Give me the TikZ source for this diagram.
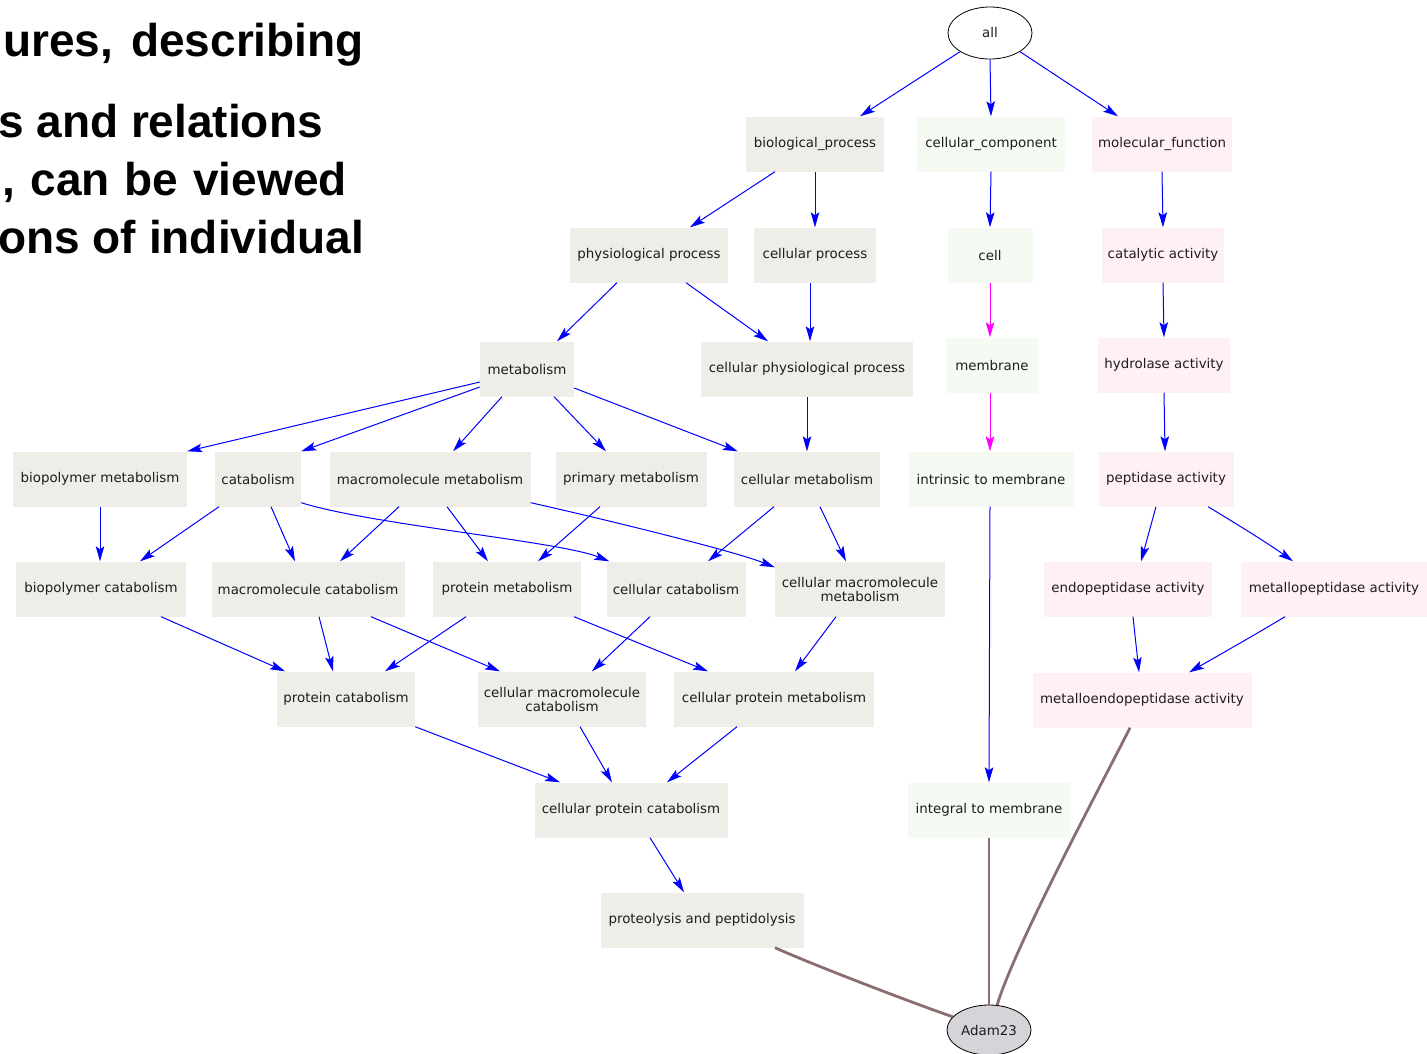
\documentclass[tikz,border=0pt]{standalone}
\usepackage{fontspec}
\setmainfont{DejaVu Sans}
\newfontfamily\titlefont{Liberation Sans}
\usetikzlibrary{arrows.meta,shapes.geometric}
\definecolor{bpfill}{HTML}{EEEDE7}
\definecolor{ccfill}{HTML}{F5FBF3}
\definecolor{mffill}{HTML}{FFF0F4}
\definecolor{genefill}{HTML}{D6D4D9}
\definecolor{termtext}{HTML}{1E1E1E}
\definecolor{annotline}{HTML}{8C6E6E}
\definecolor{isacol}{RGB}{0,0,255}
\definecolor{partcol}{RGB}{255,0,255}
\begin{document}
\begin{tikzpicture}[x=1pt,y=-1pt,
  term/.style={rectangle, minimum height=55pt, inner sep=0pt, align=center,
    text=termtext, font=\fontsize{13.4}{15}\selectfont},
  bpbox/.style={term, fill=bpfill},
  ccbox/.style={term, fill=ccfill},
  mfbox/.style={term, fill=mffill},
  roundnode/.style={ellipse, draw=black, line width=0.8pt, inner sep=0pt,
    text=termtext, font=\fontsize{13.4}{15}\selectfont},
  isa/.style={draw=isacol, line width=1pt, -{Stealth[length=15pt,width=8.5pt,inset=3pt]}},
  partof/.style={isa, draw=partcol, -{Stealth[length=15pt,width=8.5pt,inset=3pt,fill=partcol]}},
  annot/.style={draw=annotline, line width=2.8pt},
  slidetext/.style={anchor=base east, inner sep=0pt, font=\titlefont\bfseries\fontsize{46}{55}\selectfont}
]
\useasboundingbox (0,0) rectangle (1427,1053);
\clip (0,0) rectangle (1427,1053);
\fill[white] (0,0) rectangle (1427,1053);

% slide text
\node[slidetext] (s1) at (364,56) {ures,\hspace{18pt}describing};
\node[slidetext] (s2) at (323,137) {s and relations};
\node[slidetext] (s3) at (347,195) {,\hspace{15pt}can\hspace{15pt}be\hspace{15pt}viewed};
\node[slidetext] (s4) at (364,253) {ons of individual};

% root and gene
\node[roundnode, fill=white, minimum width=84pt, minimum height=52pt] (all) at (990,33) {all};
\node[roundnode, fill=genefill, minimum width=84pt, minimum height=50pt] (adam) at (989,1030) {Adam23};

% row 1
\node[bpbox, minimum width=138pt] (bp) at (815,144) {biological\_process};
\node[ccbox, minimum width=148pt] (cc) at (991,144) {cellular\_component};
\node[mfbox, minimum width=140pt] (mf) at (1162,144) {molecular\_function};

% row 2
\node[bpbox, minimum width=158pt] (pp) at (649,255) {physiological process};
\node[bpbox, minimum width=122pt] (cp) at (815,255) {cellular process};
\node[ccbox, minimum width=85pt] (cell) at (990,255) {cell};
\node[mfbox, minimum width=122pt] (cat) at (1163,255) {catalytic activity};

% row 3
\node[bpbox, minimum width=94pt] (met) at (527,369) {metabolism};
\node[bpbox, minimum width=212pt] (cpp) at (807,369) {cellular physiological process};
\node[ccbox, minimum width=93pt] (mem) at (992,365) {membrane};
\node[mfbox, minimum width=132pt] (hyd) at (1164,365) {hydrolase activity};

% row 4
\node[bpbox, minimum width=174pt] (bpm) at (100,479) {biopolymer metabolism};
\node[bpbox, minimum width=86pt] (catab) at (258,479) {catabolism};
\node[bpbox, minimum width=201pt] (mmm) at (430,479) {macromolecule metabolism};
\node[bpbox, minimum width=151pt] (pm) at (631,479) {primary metabolism};
\node[bpbox, minimum width=146pt] (cm) at (807,479) {cellular metabolism};
\node[ccbox, minimum width=165pt] (itm) at (991,479) {intrinsic to membrane};
\node[mfbox, minimum width=135pt] (pep) at (1166,479) {peptidase activity};

% row 5
\node[bpbox, minimum width=170pt] (bpc) at (101,589) {biopolymer catabolism};
\node[bpbox, minimum width=193pt] (mmc) at (308,589) {macromolecule catabolism};
\node[bpbox, minimum width=148pt] (prm) at (507,589) {protein metabolism};
\node[bpbox, minimum width=139pt] (ccat) at (676,589) {cellular catabolism};
\node[bpbox, minimum width=170pt] (cmm) at (860,589) {cellular macromolecule\\[-1pt]metabolism};
\node[mfbox, minimum width=168pt] (endo) at (1128,589) {endopeptidase activity};
\node[mfbox, minimum width=186pt] (mpep) at (1334,589) {metallopeptidase activity};

% row 6
\node[bpbox, minimum width=138pt] (prc) at (346,699) {protein catabolism};
\node[bpbox, minimum width=168pt] (cmc) at (562,699) {cellular macromolecule\\[-1pt]catabolism};
\node[bpbox, minimum width=200pt] (cpm) at (774,699) {cellular protein metabolism};
\node[mfbox, minimum width=219pt] (mendo) at (1142,700) {metalloendopeptidase activity};

% row 7 and 8
\node[bpbox, minimum width=193pt] (cpc) at (631,810) {cellular protein catabolism};
\node[ccbox, minimum width=163pt] (int) at (989,810) {integral to membrane};
\node[bpbox, minimum width=203pt] (prot) at (702,920) {proteolysis and peptidolysis};

% is-a links
\draw[isa] (all.south west) -- ([xshift=45pt]bp.north);
\draw[isa] (all.south) -- (cc.north);
\draw[isa] (all.south east) -- ([xshift=-44pt]mf.north);
\draw[isa] ([xshift=-40pt]bp.south) -- ([xshift=41pt]pp.north);
\draw[isa] (bp.south) -- (cp.north);
\draw[isa] (cc.south) -- (cell.north);
\draw[isa] (mf.south) -- (cat.north);
\draw[isa] ([xshift=-32pt]pp.south) -- ([xshift=30pt]met.north);
\draw[isa] ([xshift=37pt]pp.south) -- ([xshift=-39pt]cpp.north);
\draw[isa] ([xshift=-5pt]cp.south) -- ([xshift=3pt]cpp.north);
\draw[isa] (cat.south) -- (hyd.north);
\draw[isa] ([yshift=-13pt]met.west) -- (bpm.north east);
\draw[isa] ([yshift=-18pt]met.west) -- (catab.north east);
\draw[isa] ([xshift=-25pt]met.south) -- ([xshift=23pt]mmm.north);
\draw[isa] ([xshift=27pt]met.south) -- ([xshift=-25pt]pm.north);
\draw[isa] ([yshift=-19pt]met.east) -- ([xshift=4pt]cm.north west);
\draw[isa] (cpp.south) -- (cm.north);
\draw[isa] (hyd.south) -- ([xshift=-1pt]pep.north);
\draw[isa] (bpm.south) -- ([xshift=-1pt]bpc.north);
\draw[isa] ([xshift=-39pt]catab.south) -- ([xshift=39pt]bpc.north);
\draw[isa] ([xshift=13pt]catab.south) -- ([xshift=-13pt]mmc.north);
\draw[isa] ([yshift=4pt]catab.south east) .. controls +(70,22) and +(-50,-20) .. ([xshift=3pt]ccat.north west);
\draw[isa] ([xshift=-31pt]mmm.south) -- ([xshift=32pt]mmc.north);
\draw[isa] ([xshift=17pt]mmm.south) -- ([xshift=-19pt]prm.north);
\draw[isa] ([yshift=4pt]mmm.south east) .. controls +(80,18) and +(-40,-16) .. ([yshift=-6pt]cmm.north west);
\draw[isa] ([xshift=-31pt]pm.south) -- ([xshift=31pt]prm.north);
\draw[isa] ([xshift=-33pt]cm.south) -- ([xshift=32pt]ccat.north);
\draw[isa] ([xshift=13pt]cm.south) -- ([xshift=-14pt]cmm.north);
\draw[isa] ([xshift=-1pt]itm.south) -- (int.north);
\draw[isa] ([xshift=-10pt]pep.south) -- ([xshift=13pt]endo.north);
\draw[isa] ([xshift=42pt]pep.south) .. controls +(25,15) and +(-25,-18) .. ([xshift=-41pt]mpep.north);
\draw[isa] ([xshift=60pt]bpc.south) -- ([xshift=-61pt]prc.north);
\draw[isa] ([xshift=11pt]mmc.south) -- ([xshift=-13pt]prc.north);
\draw[isa] ([xshift=63pt]mmc.south) -- ([xshift=-62pt]cmc.north);
\draw[isa] ([xshift=-41pt]prm.south) -- ([xshift=39pt]prc.north);
\draw[isa] ([xshift=67pt]prm.south) -- ([xshift=-66pt]cpm.north);
\draw[isa] ([xshift=-26pt]ccat.south) -- ([xshift=30pt]cmc.north);
\draw[isa] ([xshift=-24pt]cmm.south) -- ([xshift=21pt]cpm.north);
\draw[isa] ([xshift=5pt]endo.south) -- ([xshift=-3pt]mendo.north);
\draw[isa] ([xshift=-49pt]mpep.south) .. controls +(-30,18) and +(35,-20) .. ([xshift=47pt]mendo.north);
\draw[isa] (prc.south east) -- ([xshift=-71pt]cpc.north);
\draw[isa] ([xshift=18pt]cmc.south) -- ([xshift=-19pt]cpc.north);
\draw[isa] ([xshift=-37pt]cpm.south) -- ([xshift=36pt]cpc.north);
\draw[isa] ([xshift=19pt]cpc.south) -- ([xshift=-18pt]prot.north);

% part-of links
\draw[partof] (cell.south) -- ([xshift=-2pt]mem.north);
\draw[partof] ([xshift=-2pt]mem.south) -- ([xshift=-1pt]itm.north);

% annotations of the gene product
\draw[annot] ([xshift=73pt]prot.south) .. controls +(40,18) and +(-35,-12) .. (adam.160);
\draw[annot] (int.south) -- (adam.north);
\draw[annot] ([xshift=-12pt]mendo.south) .. controls +(-25,50) and +(18,-60) .. (adam.72);
\end{tikzpicture}
\end{document}
